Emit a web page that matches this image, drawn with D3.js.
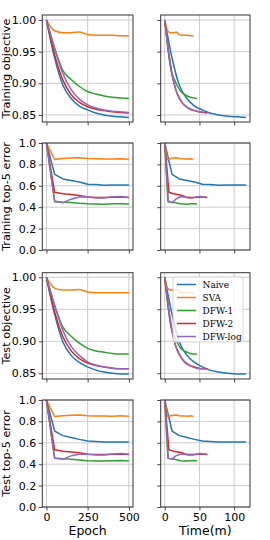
<!DOCTYPE html>
<html><head><meta charset="utf-8">
<script src="https://cdn.jsdelivr.net/npm/d3@7"></script>
<style>html,body{margin:0;padding:0;background:#fff;}svg{display:block;}</style>
</head><body>
<svg id="c" width="270" height="540"></svg>
<script>
const methods = ["Naive", "SVA", "DFW-1", "DFW-2", "DFW-log"];
const colors = ["#1f77b4", "#ff7f0e", "#2ca02c", "#d62728", "#9467bd"];
const epochs = [0, 50, 100, 150, 200, 250, 300, 350, 400, 450, 500];

// wall-clock time (minutes) at each epoch sample, per method
const timeNaive = [0, 10.5, 21, 32, 43, 54, 65, 78, 91, 104, 117];
const timeSVA = [0, 4, 8.2, 12.4, 16.6, 20.7, 24.9, 29, 33.1, 37.3, 41.4];
const timeDFW1 = [0, 4.6, 9.2, 13.9, 18.5, 23.1, 27.8, 32.4, 37, 41.7, 46.3];
const timeDFW2 = [0, 6, 12.2, 18.4, 24.6, 30.8, 36.9, 43.1, 49.2, 55.4, 61.5];
const timeDFWlog = [0, 5, 10.5, 16, 22, 28, 34, 40, 46, 52, 58];

// Training objective
const trainObjNaive = [1.0, 0.940, 0.897, 0.876, 0.864, 0.858, 0.853, 0.850, 0.848, 0.847, 0.846];
const trainObjSVA = [1.0, 0.983, 0.980, 0.980, 0.981, 0.977, 0.976, 0.976, 0.976, 0.975, 0.975];
const trainObjDFW1 = [1.0, 0.955, 0.920, 0.906, 0.895, 0.887, 0.883, 0.880, 0.878, 0.877, 0.876];
const trainObjDFW2 = [1.0, 0.945, 0.905, 0.882, 0.870, 0.863, 0.859, 0.857, 0.855, 0.854, 0.853];
const trainObjDFWlog = [1.0, 0.955, 0.915, 0.890, 0.875, 0.866, 0.861, 0.858, 0.856, 0.855, 0.854];

// Training top-5 error
const trainErrNaive = [1.0, 0.707, 0.664, 0.650, 0.635, 0.615, 0.612, 0.605, 0.607, 0.607, 0.607];
const trainErrSVA = [1.0, 0.845, 0.855, 0.860, 0.862, 0.855, 0.852, 0.850, 0.850, 0.853, 0.847];
const trainErrDFW1 = [1.0, 0.452, 0.447, 0.445, 0.437, 0.432, 0.430, 0.428, 0.432, 0.433, 0.430];
const trainErrDFW2 = [1.0, 0.539, 0.525, 0.518, 0.510, 0.495, 0.490, 0.490, 0.493, 0.495, 0.490];
const trainErrDFWlog = [1.0, 0.458, 0.442, 0.475, 0.495, 0.497, 0.485, 0.487, 0.497, 0.500, 0.490];

// Test objective
const testObjNaive = [1.0, 0.942, 0.899, 0.878, 0.867, 0.860, 0.855, 0.852, 0.850, 0.849, 0.849];
const testObjSVA = [1.0, 0.983, 0.980, 0.980, 0.981, 0.977, 0.976, 0.976, 0.976, 0.976, 0.976];
const testObjDFW1 = [1.0, 0.956, 0.922, 0.908, 0.897, 0.889, 0.885, 0.883, 0.881, 0.880, 0.880];
const testObjDFW2 = [1.0, 0.946, 0.907, 0.885, 0.873, 0.866, 0.862, 0.860, 0.858, 0.857, 0.857];
const testObjDFWlog = [1.0, 0.956, 0.917, 0.892, 0.878, 0.868, 0.863, 0.860, 0.858, 0.857, 0.857];

// Test top-5 error
const testErrNaive = [1.0, 0.710, 0.667, 0.650, 0.632, 0.617, 0.612, 0.607, 0.607, 0.607, 0.607];
const testErrSVA = [1.0, 0.845, 0.853, 0.857, 0.860, 0.853, 0.850, 0.850, 0.848, 0.852, 0.847];
const testErrDFW1 = [1.0, 0.455, 0.450, 0.447, 0.440, 0.433, 0.431, 0.430, 0.432, 0.434, 0.430];
const testErrDFW2 = [1.0, 0.535, 0.522, 0.515, 0.507, 0.492, 0.490, 0.490, 0.492, 0.495, 0.490];
const testErrDFWlog = [1.0, 0.457, 0.447, 0.478, 0.493, 0.493, 0.485, 0.487, 0.495, 0.500, 0.492];

const rowLabels = ["Training objective", "Training top-5 error", "Test objective", "Test top-5 error"];
const objTicks = [0.85, 0.90, 0.95, 1.00];
const errTicks = [0.0, 0.2, 0.4, 0.6, 0.8, 1.0];
const epochTicks = [0, 250, 500];
const timeTicks = [0, 50, 100];

const times = [timeNaive, timeSVA, timeDFW1, timeDFW2, timeDFWlog];
const rows = [
  {label: rowLabels[0], series: [trainObjNaive, trainObjSVA, trainObjDFW1, trainObjDFW2, trainObjDFWlog], domain: [0.8389, 1.0079], ticks: objTicks, fmt: d3.format(".2f"), smooth: true},
  {label: rowLabels[1], series: [trainErrNaive, trainErrSVA, trainErrDFW1, trainErrDFW2, trainErrDFWlog], domain: [0, 1], ticks: errTicks, fmt: d3.format(".1f"), smooth: false},
  {label: rowLabels[2], series: [testObjNaive, testObjSVA, testObjDFW1, testObjDFW2, testObjDFWlog], domain: [0.8411, 1.0072], ticks: objTicks, fmt: d3.format(".2f"), smooth: true},
  {label: rowLabels[3], series: [testErrNaive, testErrSVA, testErrDFW1, testErrDFW2, testErrDFWlog], domain: [0, 1], ticks: errTicks, fmt: d3.format(".1f"), smooth: false}
];
const rowBox = [[15, 122], [143, 250], [272.7, 379], [400, 507]];
const colBox = [[42.3, 133], [160.7, 250]];

const svg = d3.select("#c");
const font = "DejaVu Sans, sans-serif";
const gridColor = "#cbcbcb";
const spineColor = "#333333";

rows.forEach((row, ri) => {
  const [top, bot] = rowBox[ri];
  const y = d3.scaleLinear().domain(row.domain).range([bot, top]);
  [0, 1].forEach(ci => {
    const [l, r] = colBox[ci];
    const x = ci === 0 ? d3.scaleLinear().domain([-25, 525]).range([l, r])
                       : d3.scaleLinear().domain([-5.85, 122.85]).range([l, r]);
    const xt = ci === 0 ? epochTicks : timeTicks;
    const g = svg.append("g");
    // grid
    g.selectAll(".gy").data(row.ticks).enter().append("line")
      .attr("x1", l).attr("x2", r).attr("y1", d => y(d)).attr("y2", d => y(d))
      .attr("stroke", gridColor).attr("stroke-width", 1);
    g.selectAll(".gx").data(xt).enter().append("line")
      .attr("x1", d => x(d)).attr("x2", d => x(d)).attr("y1", top).attr("y2", bot)
      .attr("stroke", gridColor).attr("stroke-width", 1);
    // series
    row.series.forEach((vals, mi) => {
      const xs = ci === 0 ? epochs : times[mi];
      const pts = vals.map((v, i) => [xs[i], v]);
      const line = d3.line().x(d => x(d[0])).y(d => y(d[1]))
        .curve(row.smooth ? d3.curveMonotoneX : d3.curveLinear);
      g.append("path").attr("d", line(pts)).attr("fill", "none")
        .attr("stroke", colors[mi]).attr("stroke-width", 1.5)
        .attr("stroke-linejoin", "round").attr("stroke-linecap", "butt");
    });
    // axes
    const ya = d3.axisLeft(y).tickValues(row.ticks).tickSize(3.5).tickPadding(2.5)
      .tickFormat(ci === 0 ? row.fmt : () => "");
    const yg = g.append("g").attr("transform", `translate(${l},0)`).call(ya);
    const xa = d3.axisBottom(x).tickValues(xt).tickSize(3.5).tickPadding(2.5)
      .tickFormat(ri === 3 ? d3.format("d") : () => "");
    const xg = g.append("g").attr("transform", `translate(0,${bot})`).call(xa);
    [yg, xg].forEach(a => {
      a.select(".domain").remove();
      a.selectAll("line").attr("stroke", spineColor).attr("stroke-width", 0.9);
      a.selectAll("text").attr("font-family", font).attr("font-size", 11).attr("fill", "#000");
    });
    // spines
    g.append("rect").attr("x", l).attr("y", top).attr("width", r - l).attr("height", bot - top)
      .attr("fill", "none").attr("stroke", spineColor).attr("stroke-width", 1);
  });
  // y label
  svg.append("text").attr("transform", `translate(9.5,${(top + bot) / 2}) rotate(-90)`)
    .attr("text-anchor", "middle").attr("font-family", font).attr("font-size", 11.3)
    .text(row.label);
});

// x labels
svg.append("text").attr("x", (colBox[0][0] + colBox[0][1]) / 2).attr("y", 535)
  .attr("text-anchor", "middle").attr("font-family", font).attr("font-size", 12.5).text("Epoch");
svg.append("text").attr("x", (colBox[1][0] + colBox[1][1]) / 2).attr("y", 535)
  .attr("text-anchor", "middle").attr("font-family", font).attr("font-size", 12.5).text("Time(m)");

// legend (in test objective, time panel)
const leg = svg.append("g").attr("transform", "translate(173,277)");
leg.append("rect").attr("x", 0).attr("y", 0).attr("width", 70).attr("height", 65)
  .attr("rx", 2).attr("fill", "#ffffff").attr("fill-opacity", 0.8)
  .attr("stroke", "#cccccc").attr("stroke-width", 0.8);
methods.forEach((m, i) => {
  const yy = 7.5 + i * 13;
  leg.append("line").attr("x1", 4).attr("x2", 23).attr("y1", yy).attr("y2", yy)
    .attr("stroke", colors[i]).attr("stroke-width", 1.5);
  leg.append("text").attr("x", 29.5).attr("y", yy + 3.2)
    .attr("font-family", "DejaVu Serif, serif").attr("font-size", 9).text(m);
});
</script>
</body></html>
